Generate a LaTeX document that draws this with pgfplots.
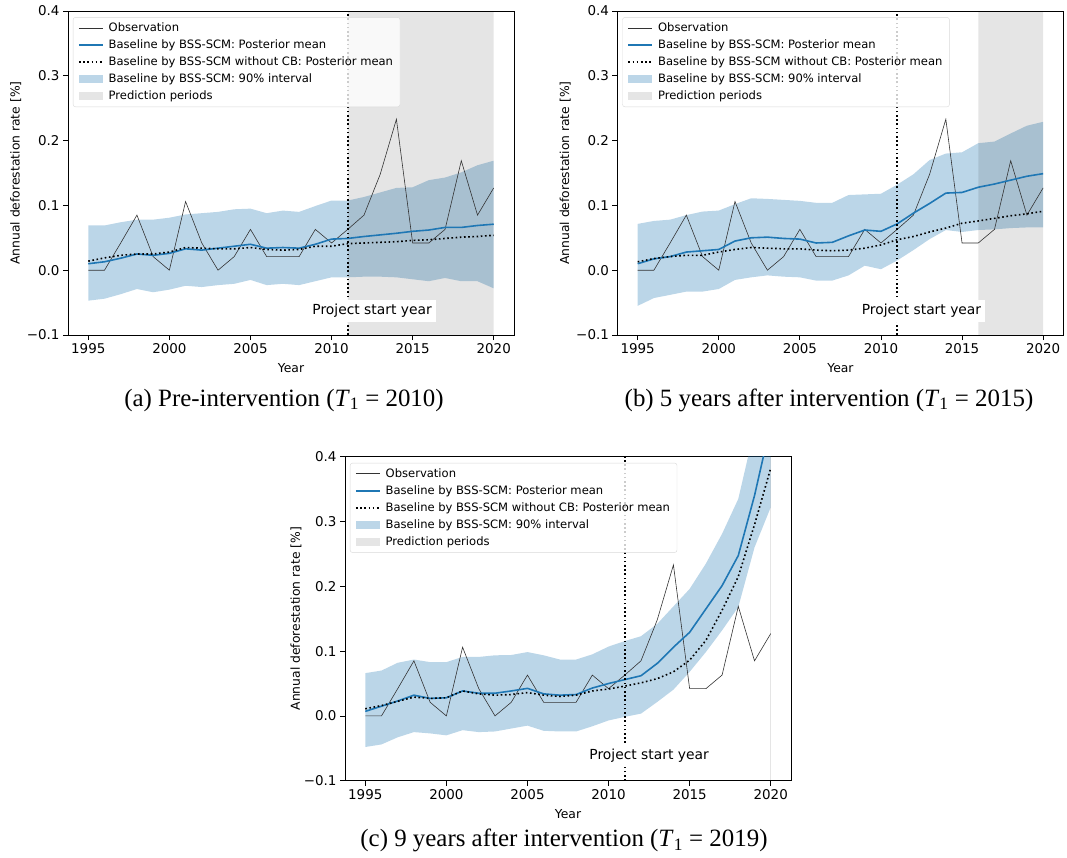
\documentclass[border=0pt]{standalone}
\usepackage{pgfplots}
\pgfplotsset{compat=1.18}
\usepackage{pgfplotstable}
\usepgfplotslibrary{fillbetween}
\usepackage{fontspec}
\setmainfont{Liberation Serif}
\newfontfamily\dejavu{DejaVu Sans}
\definecolor{tabblue}{HTML}{1F77B4}

\pgfplotstableread{
year obs mean nocb lo hi
1995 0 0.010 0.014 -0.047 0.069
1996 0 0.013 0.019 -0.044 0.069
1997 0.042 0.0185 0.023 -0.037 0.074
1998 0.085 0.025 0.025 -0.029 0.078
1999 0.021 0.023 0.025 -0.034 0.078
2000 0 0.026 0.028 -0.030 0.081
2001 0.106 0.033 0.035 -0.024 0.086
2002 0.042 0.031 0.034 -0.026 0.088
2003 0 0.034 0.033 -0.023 0.090
2004 0.021 0.037 0.033 -0.021 0.094
2005 0.063 0.040 0.035 -0.015 0.095
2006 0.021 0.034 0.032 -0.023 0.088
2007 0.021 0.035 0.031 -0.021 0.092
2008 0.021 0.034 0.032 -0.023 0.090
2009 0.063 0.040 0.037 -0.017 0.099
2010 0.042 0.048 0.037 -0.011 0.1075
2011 0.063 0.049 0.041 -0.011 0.1075
2012 0.085 0.052 0.042 -0.010 0.113
2013 0.148 0.0545 0.043 -0.010 0.120
2014 0.233 0.057 0.044 -0.011 0.127
2015 0.042 0.060 0.046 -0.014 0.128
2016 0.042 0.062 0.047 -0.017 0.139
2017 0.063 0.066 0.049 -0.012 0.143
2018 0.169 0.066 0.051 -0.017 0.151
2019 0.085 0.069 0.052 -0.017 0.162
2020 0.127 0.071 0.054 -0.028 0.169
}\tablea

\pgfplotstableread{
year obs mean nocb lo hi
1995 0 0.010 0.013 -0.055 0.0715
1996 0 0.0175 0.018 -0.043 0.076
1997 0.042 0.021 0.021 -0.038 0.078
1998 0.085 0.028 0.023 -0.033 0.085
1999 0.021 0.030 0.023 -0.033 0.0905
2000 0 0.032 0.028 -0.029 0.092
2001 0.106 0.045 0.032 -0.015 0.102
2002 0.042 0.050 0.035 -0.011 0.111
2003 0 0.051 0.034 -0.008 0.110
2004 0.021 0.049 0.033 -0.010 0.1085
2005 0.063 0.048 0.033 -0.011 0.107
2006 0.021 0.042 0.031 -0.016 0.104
2007 0.021 0.043 0.030 -0.016 0.104
2008 0.021 0.053 0.031 -0.008 0.116
2009 0.063 0.062 0.034 0.007 0.117
2010 0.042 0.060 0.039 0.0015 0.118
2011 0.063 0.0715 0.047 0.015 0.132
2012 0.085 0.088 0.052 0.031 0.148
2013 0.148 0.103 0.059 0.048 0.170
2014 0.233 0.119 0.065 0.062 0.180
2015 0.042 0.120 0.0725 0.059 0.182
2016 0.042 0.128 0.076 0.062 0.196
2017 0.063 0.133 0.080 0.063 0.1985
2018 0.169 0.139 0.084 0.065 0.211
2019 0.085 0.145 0.087 0.066 0.223
2020 0.127 0.149 0.091 0.066 0.229
}\tableb

\pgfplotstableread{
year obs mean nocb lo hi
1995 0 0.007 0.011 -0.048 0.066
1996 0 0.015 0.016 -0.044 0.070
1997 0.042 0.023 0.0225 -0.033 0.082
1998 0.085 0.032 0.029 -0.025 0.087
1999 0.021 0.027 0.027 -0.027 0.083
2000 0 0.028 0.028 -0.030 0.083
2001 0.106 0.0385 0.0385 -0.022 0.091
2002 0.042 0.035 0.034 -0.025 0.091
2003 0 0.035 0.032 -0.024 0.0935
2004 0.021 0.0385 0.033 -0.0195 0.094
2005 0.063 0.0425 0.036 -0.015 0.0985
2006 0.021 0.034 0.032 -0.023 0.0935
2007 0.021 0.032 0.030 -0.024 0.087
2008 0.021 0.033 0.032 -0.024 0.087
2009 0.063 0.043 0.0385 -0.016 0.095
2010 0.042 0.050 0.0415 -0.007 0.107
2011 0.063 0.056 0.046 -0.0015 0.1155
2012 0.085 0.062 0.051 0.0035 0.123
2013 0.148 0.081 0.0575 0.0215 0.142
2014 0.233 0.106 0.068 0.0405 0.169
2015 0.042 0.129 0.086 0.068 0.196
2016 0.042 0.165 0.1165 0.0985 0.235
2017 0.063 0.201 0.163 0.132 0.281
2018 0.169 0.2475 0.215 0.168 0.335
2019 0.085 0.34 0.295 0.260 0.443
2020 0.127 0.45 0.3825 0.322 0.55
}\tablec

\tikzset{
  annot/.style={fill=white, inner xsep=4bp, inner ysep=4bp, font=\dejavu\fontsize{13.9}{16}\selectfont},
  capt/.style={anchor=base, font=\fontsize{25}{28}\selectfont},
}
\pgfplotsset{
  legline/.style={legend image code/.code={\draw[##1] (0bp,0bp) -- (24bp,0bp);}},
  legarea/.style={legend image code/.code={\fill[fill opacity=1, sharp corners, ##1] (0bp,-4bp) rectangle (24bp,4bp);}},
  panel/.style={
    scale only axis, width=446bp, height=324bp,
    xmin=1993.75, xmax=2021.25, ymin=-0.1, ymax=0.4,
    xtick={1995,2000,2005,2010,2015,2020},
    xticklabels={1995,2000,2005,2010,2015,2020},
    ytick={-0.1,0,0.1,0.2,0.3,0.4},
    yticklabels={−0.1,0.0,0.1,0.2,0.3,0.4},
    tick pos=left, tick align=outside, major tick length=5bp,
    every tick/.style={black, line width=0.8bp},
    axis line style={line width=0.8bp},
    ticklabel style={font=\dejavu\fontsize{13.5}{16}\selectfont},
    xlabel={Year}, ylabel={Annual deforestation rate [\%]},
    every axis x label/.style={at={(axis description cs:0.5,-0.102)}, anchor=center,
      font=\dejavu\fontsize{12.4}{15}\selectfont},
    every axis y label/.style={at={(axis description cs:-0.117,0.5)}, anchor=center, rotate=90,
      font=\dejavu\fontsize{12.4}{15}\selectfont},
    legend style={at={(rel axis cs:0.011,0.981)}, anchor=north west,
      draw=black!15, fill=white, fill opacity=0.8,
      text opacity=1, draw opacity=1, rounded corners=2.5bp,
      font=\dejavu\fontsize{11.6}{13}\selectfont, row sep=2.8bp,
      inner xsep=5bp, inner ysep=3.5bp,
      /tikz/every odd column/.append style={column sep=3bp}},
    legend cell align=left,
  },
  obs/.style={black!80, line width=0.6bp},
  mean/.style={tabblue, line width=1.6bp},
  nocb/.style={black, line width=1.6bp, dash pattern=on 1.6bp off 2.6bp},
  band/.style={fill=tabblue, fill opacity=0.3, draw=none},
  pred/.style={fill=black, fill opacity=0.1, draw=none},
  vline/.style={black, line width=1.6bp, dash pattern=on 1.6bp off 2.6bp},
}

\newcommand{\legendentries}{%
  \addlegendimage{legline, black!80, line width=0.6bp}
  \addlegendentry{Observation}
  \addlegendimage{legline, tabblue, line width=1.6bp}
  \addlegendentry{Baseline by BSS-SCM: Posterior mean}
  \addlegendimage{legline, black, line width=1.6bp, dash pattern=on 1.6bp off 2.6bp}
  \addlegendentry{Baseline by BSS-SCM without CB: Posterior mean}
  \addlegendimage{legarea, fill=tabblue!30, draw=none}
  \addlegendentry{Baseline by BSS-SCM: 90\% interval}
  \addlegendimage{legarea, fill=black!10, draw=none}
  \addlegendentry{Prediction periods}
}

\begin{document}
\begin{tikzpicture}

% (a)
\begin{axis}[panel, at={(68bp,-335bp)}, anchor=south west]
  \addplot[pred, forget plot] coordinates {(2011,-0.1) (2011,0.4) (2020,0.4) (2020,-0.1) (2011,-0.1)};
  \addplot[name path=ahi, draw=none, forget plot] table[x=year,y=hi]{\tablea};
  \addplot[name path=alo, draw=none, forget plot] table[x=year,y=lo]{\tablea};
  \addplot[band, forget plot] fill between[of=ahi and alo];
  \addplot[obs, forget plot] table[x=year,y=obs]{\tablea};
  \addplot[mean, forget plot] table[x=year,y=mean]{\tablea};
  \addplot[nocb, forget plot] table[x=year,y=nocb]{\tablea};
  \addplot[vline, forget plot] coordinates {(2011,-0.1) (2011,0.4)};
  \node[annot] at (axis cs:2012.5,-0.063) {Project start year};
  \legendentries
\end{axis}

% (b)
\begin{axis}[panel, at={(617.4bp,-335bp)}, anchor=south west]
  \addplot[pred, forget plot] coordinates {(2016,-0.1) (2016,0.4) (2020,0.4) (2020,-0.1) (2016,-0.1)};
  \addplot[name path=bhi, draw=none, forget plot] table[x=year,y=hi]{\tableb};
  \addplot[name path=blo, draw=none, forget plot] table[x=year,y=lo]{\tableb};
  \addplot[band, forget plot] fill between[of=bhi and blo];
  \addplot[obs, forget plot] table[x=year,y=obs]{\tableb};
  \addplot[mean, forget plot] table[x=year,y=mean]{\tableb};
  \addplot[nocb, forget plot] table[x=year,y=nocb]{\tableb};
  \addplot[vline, forget plot] coordinates {(2011,-0.1) (2011,0.4)};
  \node[annot] at (axis cs:2012.5,-0.063) {Project start year};
  \legendentries
\end{axis}

% (c)
\begin{axis}[panel, at={(345bp,-780.7bp)}, anchor=south west,
  every axis y label/.style={at={(axis description cs:-0.11,0.5)}, anchor=center, rotate=90,
      font=\dejavu\fontsize{12.4}{15}\selectfont}]
  \addplot[draw=black, draw opacity=0.1, line width=1.5bp, forget plot] coordinates {(2020,-0.1) (2020,0.4)};
  \addplot[name path=chi, draw=none, forget plot] table[x=year,y=hi]{\tablec};
  \addplot[name path=clo, draw=none, forget plot] table[x=year,y=lo]{\tablec};
  \addplot[band, forget plot] fill between[of=chi and clo];
  \addplot[obs, forget plot] table[x=year,y=obs]{\tablec};
  \addplot[mean, forget plot] table[x=year,y=mean]{\tablec};
  \addplot[nocb, forget plot] table[x=year,y=nocb]{\tablec};
  \addplot[vline, forget plot] coordinates {(2011,-0.1) (2011,0.4)};
  \node[annot] at (axis cs:2012.5,-0.062) {Project start year};
  \legendentries
\end{axis}

\node[capt] at (284bp,-406bp) {(a) Pre-intervention (\textit{T}\textsubscript{1} = 2010)};
\node[capt] at (829bp,-406bp) {(b) 5 years after intervention (\textit{T}\textsubscript{1} = 2015)};
\node[capt] at (564bp,-846.5bp) {(c) 9 years after intervention (\textit{T}\textsubscript{1} = 2019)};

\pgfresetboundingbox
\useasboundingbox (0,0) rectangle (1067bp,-858bp);
\end{tikzpicture}
\end{document}
